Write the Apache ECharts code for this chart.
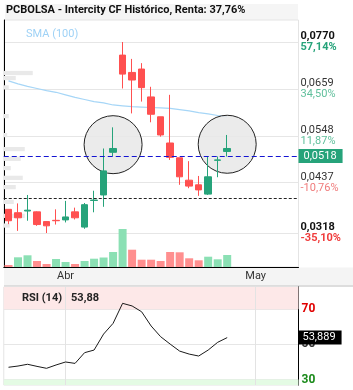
<!DOCTYPE html>
<html>
<head>
<meta charset="utf-8">
<script src="https://cdn.jsdelivr.net/npm/echarts@6/dist/echarts.min.js"></script>
<style>
  html, body { margin: 0; padding: 0; background: #fff; }
  #chart { width: 353px; height: 390px; }
</style>
</head>
<body>
<div id="chart"></div>
<script>
// sesiones (las 7 últimas son huecos a la derecha del gráfico)
const dates = ['2025-03-24', '2025-03-25', '2025-03-26', '2025-03-27', '2025-03-28', '2025-03-31',
  '2025-04-01', '2025-04-02', '2025-04-03', '2025-04-04', '2025-04-07', '2025-04-08', '2025-04-09',
  '2025-04-10', '2025-04-11', '2025-04-14', '2025-04-15', '2025-04-16', '2025-04-17', '2025-04-22',
  '2025-04-23', '2025-04-24', '2025-04-25', '2025-04-28', '2025-04-29', '2025-04-30', '2025-05-02',
  '2025-05-05', '2025-05-06', '2025-05-07', '2025-05-08']
const monthNames = ['Ene', 'Feb', 'Mar', 'Abr', 'May', 'Jun', 'Jul', 'Ago', 'Sep', 'Oct', 'Nov', 'Dic']

const opens = [0.0374, 0.0366, 0.0370, 0.0368, 0.0345, 0.0348, 0.0349, 0.0368, 0.0332, 0.0395, 0.0408, 0.0509,
  0.0739, 0.0698, 0.0706, 0.0640, 0.0593, 0.0531, 0.0496, 0.0443, 0.0432, 0.0410, 0.0490, 0.0511]
const closes = [0.0347, 0.0354, 0.0372, 0.0338, 0.0335, 0.0347, 0.0356, 0.0354, 0.0385, 0.0396, 0.0465, 0.0518,
  0.0694, 0.0680, 0.0662, 0.0599, 0.0550, 0.0497, 0.0451, 0.0429, 0.0420, 0.0451, 0.0491, 0.0518]
const lows = [0.0339, 0.0323, 0.0347, 0.0335, 0.0318, 0.0338, 0.0343, 0.0350, 0.0328, 0.0367, 0.0380, 0.0500,
  0.0660, 0.0601, 0.0629, 0.0580, 0.0546, 0.0491, 0.0432, 0.0424, 0.0406, 0.0408, 0.0450, 0.0499]
const highs = [0.0374, 0.0388, 0.0408, 0.0369, 0.0346, 0.0374, 0.0394, 0.0378, 0.0389, 0.0418, 0.0518, 0.0568,
  0.0770, 0.0730, 0.0720, 0.0664, 0.0593, 0.0645, 0.0496, 0.0488, 0.0453, 0.0499, 0.0499, 0.0550]
const volumes = [20, 97, 117, 60, 30, 80, 50, 30, 60, 83, 95, 150, 380, 173, 73, 73, 60, 150, 147, 87, 67, 103, 77, 120]
const sma100 = [0.0678, 0.0671, 0.0665, 0.0660, 0.0655, 0.0651, 0.0645, 0.0639, 0.0634, 0.0629, 0.0626, 0.0621,
  0.0619, 0.0617, 0.0616, 0.0615, 0.0614, 0.0613, 0.0610, 0.0607, 0.0603, 0.0600, 0.0596, 0.0593]
const rsi14 = [37.0, 37.7, 38.7, 37.5, 36.4, 38.3, 40.0, 39.2, 45.3, 46.8, 55.9, 62.0, 73.4, 71.9, 68.6, 60.5,
  54.4, 50.2, 46.2, 44.5, 43.4, 46.8, 51.2, 53.889]

// perfil de volumen por precio
const profPrice = [0.0696, 0.0684, 0.0662, 0.0594, 0.0549, 0.0516, 0.0493, 0.0471, 0.0448, 0.0426, 0.0391, 0.0358, 0.0335]
const profVol = [29, 12, 5, 5, 3.5, 21, 17, 7, 19, 12, 10, 21, 6]
const profBin = 0.00112

const priceTicks = [0.0318, 0.0437, 0.0548, 0.0659, 0.0770]
const priceTickText = ['0,0318', '0,0437', '0,0548', '0,0659', '0,0770']
const pctTickText = ['-35,10%', '-10,76%', '11,87%', '34,50%', '57,14%']
const rsiTicks = [30, 50, 70]

const lastPrice = 0.0518
const buyPrice = 0.0376
const markIdx = [11, 23]
const markPrice = [0.0527, 0.0528]

const up = '#26a37a'
const down = '#ff5050'

const chart = echarts.init(document.getElementById('chart'))

const monthLines = dates
  .filter((d, i) => i > 0 && d.slice(5, 7) !== dates[i - 1].slice(5, 7))
  .map(d => ({ xAxis: d }))

const volColors = volumes.map((v, i) => {
  const isUp = i === 0 ? closes[0] >= opens[0] : closes[i] >= closes[i - 1]
  return isUp ? '#8be0b4' : '#ff8f8f'
})

const comma = (v, n) => v.toFixed(n).replace('.', ',')
const lastRsi = rsi14[rsi14.length - 1]

const option = {
  animation: false,
  textStyle: { fontFamily: 'Roboto' },
  title: [
    {
      text: 'PCBOLSA - Intercity CF Histórico, Renta: 37,76%',
      left: 6,
      top: 5,
      padding: 0,
      textStyle: { fontSize: 11, fontWeight: 'bold', color: '#111', fontFamily: 'Roboto' },
    },
    {
      text: '{a|RSI (14)}  {a|' + comma(Math.floor(lastRsi * 100) / 100, 2) + '}',
      left: 22,
      top: 289,
      padding: 0,
      textStyle: { rich: { a: { fontSize: 11, fontWeight: 'bold', color: '#222', fontFamily: 'Roboto' } } },
    },
  ],
  legend: {
    data: [{ name: 'SMA (100)', icon: 'none' }],
    left: 16,
    top: 22,
    itemWidth: 0,
    selectedMode: false,
    textStyle: { color: '#9fd2f6', fontSize: 11 },
  },
  graphic: [
    { type: 'rect', z: -1, shape: { x: 5, y: 4, width: 293, height: 16 }, style: { fill: '#f5f5f5' } },
    { type: 'rect', z: -1, shape: { x: 4, y: 267.5, width: 349, height: 18 }, style: { fill: '#f4f4f4' } },
    { type: 'line', z: -1, shape: { x1: 4, y1: 286, x2: 353, y2: 286 }, style: { stroke: '#dddddd', lineWidth: 2 } },
  ],
  grid: [
    { left: 3.75, right: 54.5, top: 20, height: 247, outerBoundsMode: 'none', containLabel: false,
      show: true, borderColor: '#e4e4e4', borderWidth: 1 },
    { left: 3.75, right: 54.5, top: 287, height: 98, outerBoundsMode: 'none', containLabel: false,
      show: true, borderColor: '#e4e4e4', borderWidth: 1 },
  ],
  xAxis: [
    {
      type: 'category',
      gridIndex: 0,
      data: dates,
      boundaryGap: true,
      axisLine: { show: true, lineStyle: { color: '#000' } },
      axisTick: { show: false },
      splitLine: { show: false },
      axisLabel: {
        interval: 0,
        margin: 4,
        fontSize: 11,
        color: '#333',
        formatter: (v, i) => (i > 0 && v.slice(5, 7) !== dates[i - 1].slice(5, 7)) ? monthNames[+v.slice(5, 7) - 1] : '',
      },
    },
    { type: 'category', gridIndex: 1, data: dates, boundaryGap: true, show: false },
    { type: 'value', gridIndex: 0, position: 'top', min: 0, max: 294.75, show: false },
  ],
  yAxis: [
    {
      type: 'value',
      gridIndex: 0,
      position: 'right',
      min: 0.023754,
      max: 0.082206,
      axisLine: { show: true, lineStyle: { color: '#000' } },
      axisTick: { show: false, customValues: priceTicks },
      splitLine: { show: true, lineStyle: { color: '#e6e6e6' } },
      axisLabel: {
        customValues: priceTicks,
        margin: 2,
        formatter: (v) => {
          const i = priceTicks.findIndex(t => Math.abs(t - v) < 1e-7)
          if (i < 0) return ''
          const edge = i === 0 || i === priceTicks.length - 1
          const pos = priceTicks[i] > 0.049
          const pStyle = edge ? 'pb' : 'p'
          const cStyle = (pos ? 'g' : 'r') + (edge ? 'b' : '')
          return '{' + pStyle + '|' + priceTickText[i] + '}\n{' + cStyle + '|' + pctTickText[i] + '}'
        },
        rich: {
          pb: { fontSize: 11, lineHeight: 11, fontWeight: 'bold', color: '#111' },
          p: { fontSize: 11, lineHeight: 11, color: '#333' },
          gb: { fontSize: 11, lineHeight: 11, fontWeight: 'bold', color: '#26a37a' },
          g: { fontSize: 11, lineHeight: 11, color: '#5fbf9b' },
          rb: { fontSize: 11, lineHeight: 11, fontWeight: 'bold', color: '#f03c3c' },
          r: { fontSize: 11, lineHeight: 11, color: '#f07c7c' },
        },
      },
    },
    { type: 'value', gridIndex: 0, min: 0, max: 2470, show: false, splitLine: { show: false } },
    {
      type: 'value',
      gridIndex: 1,
      position: 'right',
      min: 26.9,
      max: 82.7,
      axisLine: { show: true, lineStyle: { color: '#000' } },
      axisTick: { show: false, customValues: rsiTicks },
      splitLine: { show: true, lineStyle: { color: '#e6e6e6' } },
      axisLabel: {
        customValues: rsiTicks,
        margin: 3,
        formatter: v => v === 70 ? '{h|70}' : v === 30 ? '{l|30}' : '{m|' + v + '}',
        rich: {
          h: { fontSize: 12, fontWeight: 'bold', color: '#e00000' },
          m: { fontSize: 12, fontWeight: 'bold', color: '#333' },
          l: { fontSize: 12, fontWeight: 'bold', color: '#1a8a1a' },
        },
      },
    },
  ],
  series: [
    {
      type: 'custom',
      name: 'perfil',
      xAxisIndex: 2,
      yAxisIndex: 0,
      z: 1,
      silent: true,
      data: profVol.map((v, i) => [v, profPrice[i]]),
      renderItem(params, api) {
        const a = api.coord([0, api.value(1) + profBin / 2])
        const b = api.coord([api.value(0), api.value(1) - profBin / 2])
        return {
          type: 'rect',
          shape: { x: a[0], y: a[1], width: b[0] - a[0], height: b[1] - a[1] - 0.5 },
          style: { fill: '#e9e9e9' },
        }
      },
      markLine: {
        z: 1,
        silent: true,
        symbol: 'none',
        label: { show: false },
        lineStyle: { color: '#e3e3e3', type: 'solid', width: 1 },
        data: monthLines,
      },
    },
    {
      type: 'bar',
      name: 'Volumen',
      xAxisIndex: 0,
      yAxisIndex: 1,
      barWidth: 8,
      z: 2,
      data: volumes.map((v, i) => ({ value: v, itemStyle: { color: volColors[i] } })),
    },
    {
      type: 'line',
      name: 'SMA (100)',
      xAxisIndex: 0,
      yAxisIndex: 0,
      data: sma100,
      symbol: 'none',
      z: 2,
      lineStyle: { color: '#a6d6f7', width: 1.2 },
      itemStyle: { color: '#a6d6f7' },
    },
    {
      type: 'scatter',
      xAxisIndex: 0,
      yAxisIndex: 0,
      z: 3,
      symbolSize: 58,
      silent: true,
      data: markIdx.map((x, i) => [x, markPrice[i]]),
      itemStyle: { color: 'rgba(232,232,232,0.85)', borderColor: '#222', borderWidth: 1, opacity: 1 },
    },
    {
      type: 'candlestick',
      name: 'PCBOLSA',
      xAxisIndex: 0,
      yAxisIndex: 0,
      z: 4,
      barWidth: 7,
      data: opens.map((o, i) => [o, closes[i], lows[i], highs[i]]),
      itemStyle: { color: up, color0: down, borderColor: up, borderColor0: down, borderWidth: 1 },
      markLine: {
        silent: true,
        symbol: 'none',
        data: [
          {
            yAxis: lastPrice,
            lineStyle: { color: '#1414d2', type: [5, 3], width: 1 },
            label: {
              show: true,
              position: 'end',
              distance: 0,
              formatter: comma(lastPrice, 4),
              backgroundColor: up,
              color: '#fff',
              fontSize: 11,
              padding: [2, 6, 1, 5],
            },
          },
          {
            yAxis: buyPrice,
            lineStyle: { color: '#222', type: [3, 2], width: 1 },
            label: { show: false },
          },
        ],
      },
    },
    {
      type: 'line',
      name: 'RSI (14)',
      xAxisIndex: 1,
      yAxisIndex: 2,
      data: rsi14,
      symbol: 'none',
      z: 2,
      lineStyle: { color: '#1a1a1a', width: 1 },
      markArea: {
        z: 1,
        silent: true,
        data: [
          [{ yAxis: 70, itemStyle: { color: '#fde8e8' } }, { yAxis: 82.7 }],
          [{ yAxis: 26.9, itemStyle: { color: '#e4fbe4' } }, { yAxis: 30 }],
        ],
      },
      markLine: {
        z: 1.5,
        silent: true,
        symbol: 'none',
        data: [
          ...monthLines.map(d => ({ ...d, lineStyle: { color: '#e3e3e3', type: 'solid', width: 1 }, label: { show: false } })),
          {
            yAxis: lastRsi,
            lineStyle: { color: 'rgba(0,0,0,0)', width: 1, type: 'solid' },
            label: {
              show: true,
              position: 'end',
              distance: 0,
              opacity: 1,
              formatter: comma(lastRsi, 3),
              backgroundColor: '#000',
              color: '#fff',
              fontSize: 11,
              padding: [2, 6, 1, 4],
            },
          },
        ],
      },
    },
  ],
}

chart.setOption(option)
</script>
</body>
</html>
